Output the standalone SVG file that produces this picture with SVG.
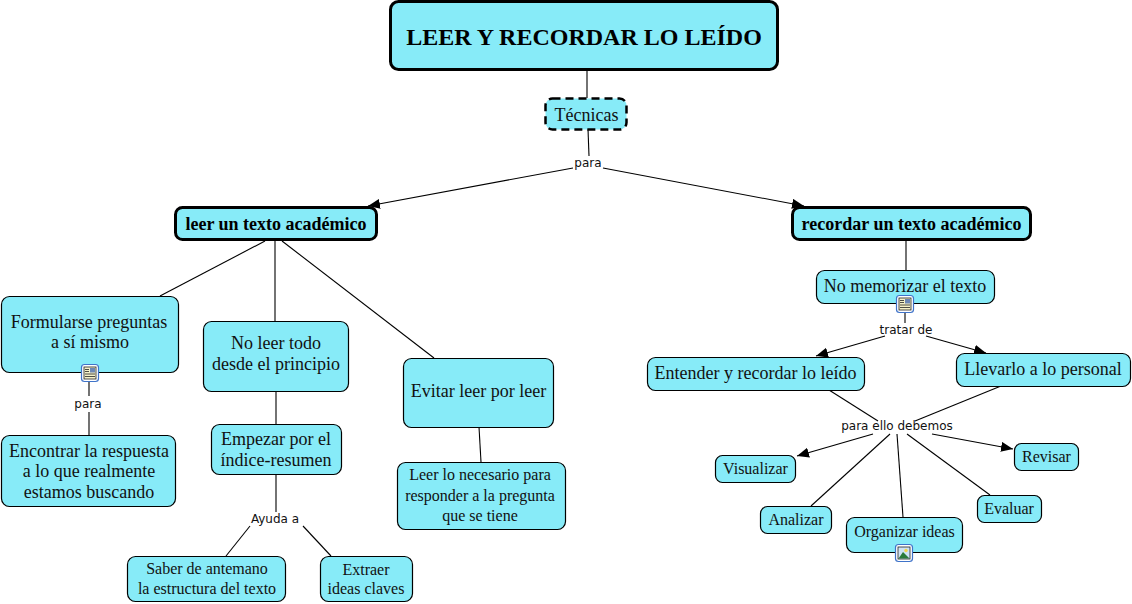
<svg xmlns="http://www.w3.org/2000/svg" width="1132" height="604" viewBox="0 0 1132 604">
<style>
.n{fill:#87ebf8;stroke:#000;stroke-width:1.2}
.b{stroke-width:3}
.d{stroke-width:2.5;stroke-dasharray:8 5}
text{font-family:"Liberation Serif","Times New Roman",serif;fill:#111;text-anchor:middle}
.t{font-size:18px}
.h{font-size:18px;font-weight:bold;fill:#000}
.s{font-size:16px}
.l{font-family:"DejaVu Sans",Verdana,sans-serif;font-size:12px}
.c{fill:none;stroke:#000;stroke-width:1.1}
</style>
<defs>
<marker id="a" markerUnits="userSpaceOnUse" markerWidth="14" markerHeight="12" refX="12" refY="5" orient="auto"><path d="M0 0L12 5L0 10Z" fill="#000"/></marker>
<g id="doc"><rect x="-8.500" y="-8.500" width="17" height="17" rx="3" fill="#fff" stroke="#3f73c9" stroke-width="1.2"/><rect x="-6" y="-6" width="12" height="12" fill="#f5f1c8" stroke="#222" stroke-width=".8"/><rect x="0" y="-5" width="5" height="4.500" fill="#6d87b5"/><path d="M-5 -3.500H-1M-5 -1.500H-1M-5 1H5M-5 3.500H5" stroke="#222" stroke-width=".8"/></g>
<g id="pic"><rect x="-8.500" y="-8.500" width="17" height="17" rx="3" fill="#fff" stroke="#3f73c9" stroke-width="1.2"/><rect x="-6" y="-6" width="12" height="12" fill="#cfe3f5" stroke="#222" stroke-width=".8"/><circle cx="2" cy="-2.500" r="1.700" fill="#f2d64b"/><path d="M-5.500 5.500L-1 -1L2 2L5.500 5.500Z" fill="#2a7a3a"/></g>
</defs>
<g id="connectors">
<path class="c" d="M587 70V98"/>
<path class="c" d="M588 129L589 156"/>
<path class="c" d="M573 168L368 206" marker-end="url(#a)"/>
<path class="c" d="M603 168L804 206" marker-end="url(#a)"/>
<path class="c" d="M265 241L160 296"/>
<path class="c" d="M275 241V321"/>
<path class="c" d="M282 241L434 358"/>
<path class="c" d="M89 381V396M89 412V435"/>
<path class="c" d="M276 391V424"/>
<path class="c" d="M276 474V512"/>
<path class="c" d="M250 526L226 556"/>
<path class="c" d="M303 526L331 556"/>
<path class="c" d="M479 427L481 462"/>
<path class="c" d="M906 240V270"/>
<path class="c" d="M905 313V323"/>
<path class="c" d="M885 336L816 356" marker-end="url(#a)"/>
<path class="c" d="M926 336L986 353" marker-end="url(#a)"/>
<path class="c" d="M829 390L878 421"/>
<path class="c" d="M1001 386L915 421"/>
<path class="c" d="M873 434L797 456" marker-end="url(#a)"/>
<path class="c" d="M890 434L811 506"/>
<path class="c" d="M897 434L903 517"/>
<path class="c" d="M907 434L990 495"/>
<path class="c" d="M932 434L1013 449" marker-end="url(#a)"/>
</g>
<g id="n-title"><rect class="n b" x="390.500" y="1.500" width="387" height="68" rx="8"/><text x="584" y="45" style="font-size:24px;font-weight:bold;fill:#000">LEER Y RECORDAR LO LEÍDO</text></g>
<g id="n-tecnicas"><rect class="n d" x="545.500" y="98.500" width="81" height="31" rx="7"/><text class="t" x="586.500" y="120.500">Técnicas</text></g>
<g id="n-leer"><rect class="n b" x="175.500" y="207.500" width="201" height="32" rx="7"/><text class="h" x="276" y="229.500">leer un texto académico</text></g>
<g id="n-recordar"><rect class="n b" x="792.500" y="207.500" width="238" height="32" rx="7"/><text class="h" x="911.500" y="229.500">recordar un texto académico</text></g>
<g id="n-formularse"><rect class="n" x="1.500" y="296.500" width="177" height="76" rx="8"/><text class="t" x="89" y="328">Formularse preguntas</text><text class="t" x="90" y="348">a sí mismo</text><use href="#doc" x="90" y="373"/></g>
<g id="n-noleer"><rect class="n" x="203.500" y="321.500" width="145" height="70" rx="8"/><text class="t" x="276" y="349">No leer todo</text><text class="t" x="276" y="370">desde el principio</text></g>
<g id="n-evitar"><rect class="n" x="403.500" y="358.500" width="150" height="69" rx="8"/><text class="t" x="478.500" y="397">Evitar leer por leer</text></g>
<g id="n-encontrar"><rect class="n" x="1.500" y="435.500" width="174" height="71" rx="8"/><text class="t" x="89" y="457">Encontrar la respuesta</text><text class="t" x="89" y="477">a lo que realmente</text><text class="t" x="89" y="498">estamos buscando</text></g>
<g id="n-empezar"><rect class="n" x="211.500" y="424.500" width="130" height="50" rx="8"/><text class="t" x="276" y="445">Empezar por el</text><text class="t" x="276" y="466">índice-resumen</text></g>
<g id="n-leernec"><rect class="n" x="397.500" y="462.500" width="168" height="67" rx="8"/><text class="s" x="480" y="480">Leer lo necesario para</text><text class="s" x="480" y="501">responder a la pregunta</text><text class="s" x="480" y="521">que se tiene</text></g>
<g id="n-saber"><rect class="n" x="127.500" y="556.500" width="158" height="45" rx="8"/><text class="s" x="207" y="574">Saber de antemano</text><text class="s" x="207" y="594">la estructura del texto</text></g>
<g id="n-extraer"><rect class="n" x="320.500" y="556.500" width="92" height="45" rx="8"/><text class="s" x="366" y="575">Extraer</text><text class="s" x="366" y="594">ideas claves</text></g>
<g id="n-nomem"><rect class="n" x="816.500" y="270.500" width="178" height="33" rx="8"/><text class="t" x="905" y="292">No memorizar el texto</text><use href="#doc" x="905" y="304"/></g>
<g id="n-entender"><rect class="n" x="647.500" y="357.500" width="217" height="33" rx="8"/><text class="t" x="755.500" y="379">Entender y recordar lo leído</text></g>
<g id="n-llevarlo"><rect class="n" x="956.500" y="353.500" width="174" height="33" rx="8"/><text class="t" x="1043" y="375">Llevarlo a lo personal</text></g>
<g id="n-visualizar"><rect class="n" x="715.500" y="455.500" width="80" height="27" rx="7"/><text class="s" x="755.500" y="474">Visualizar</text></g>
<g id="n-revisar"><rect class="n" x="1014.500" y="443.500" width="64" height="27" rx="7"/><text class="s" x="1046.500" y="462">Revisar</text></g>
<g id="n-analizar"><rect class="n" x="760.500" y="506.500" width="71" height="27" rx="7"/><text class="s" x="796" y="525">Analizar</text></g>
<g id="n-organizar"><rect class="n" x="846.500" y="517.500" width="116" height="35" rx="8"/><text class="s" x="904.500" y="537">Organizar ideas</text><use href="#pic" x="904" y="553"/></g>
<g id="n-evaluar"><rect class="n" x="977.500" y="495.500" width="64" height="27" rx="7"/><text class="s" x="1009" y="514">Evaluar</text></g>
<g id="labels">
<text class="l" x="588" y="167">para</text>
<text class="l" x="88" y="408">para</text>
<text class="l" x="275" y="523">Ayuda a</text>
<text class="l" x="906" y="334">tratar de</text>
<text class="l" x="897" y="430">para ello debemos</text>
</g>
</svg>
